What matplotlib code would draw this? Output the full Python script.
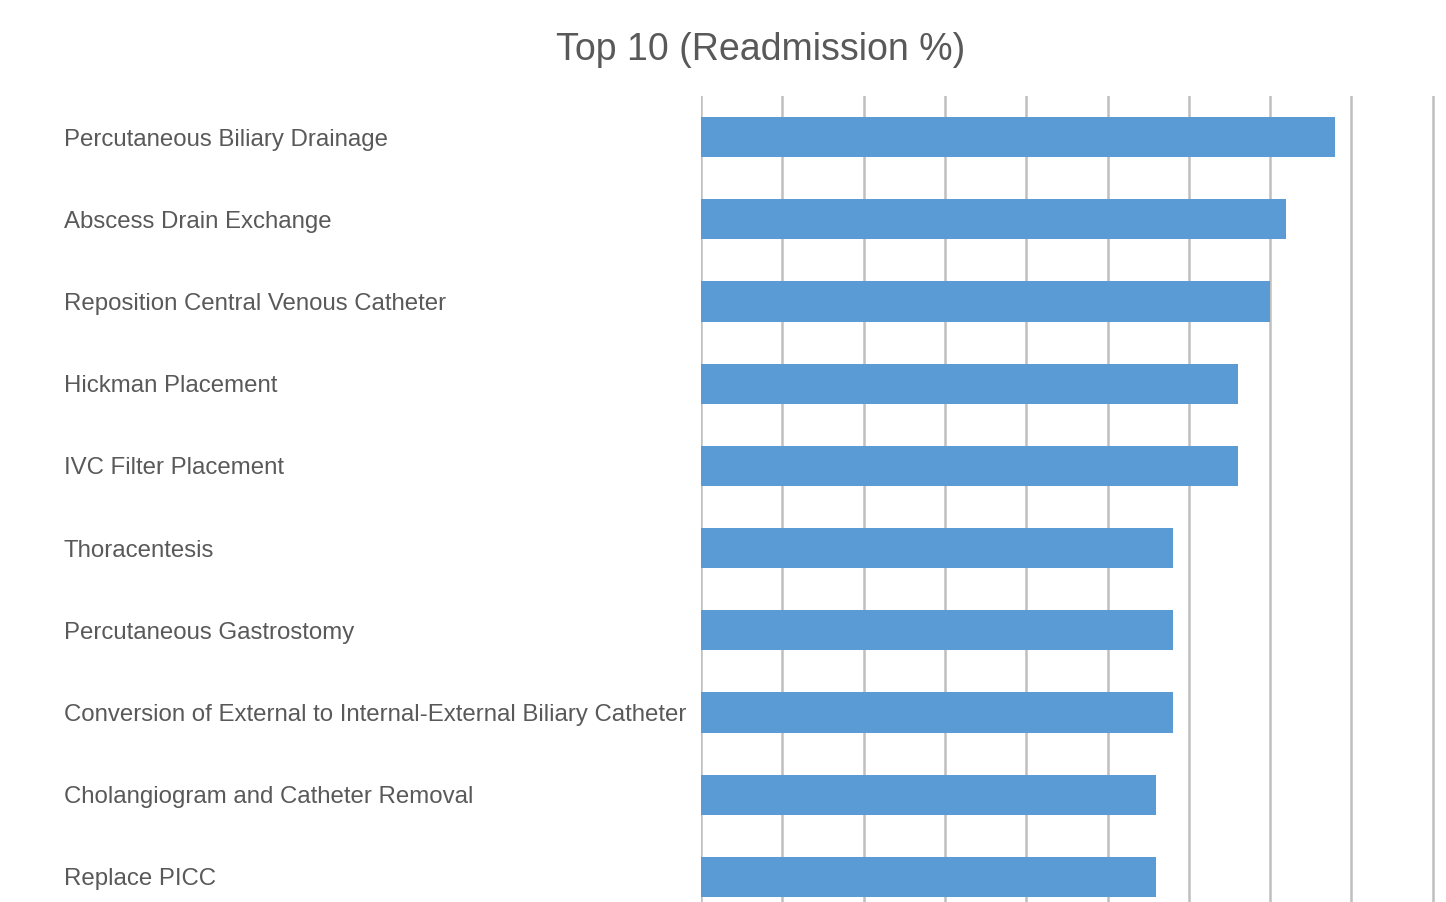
import matplotlib.pyplot as plt

procedures = [
    "Percutaneous Biliary Drainage",
    "Abscess Drain Exchange",
    "Reposition Central Venous Catheter",
    "Hickman Placement",
    "IVC Filter Placement",
    "Thoracentesis",
    "Percutaneous Gastrostomy",
    "Conversion of External to Internal-External Biliary Catheter",
    "Cholangiogram and Catheter Removal",
    "Replace PICC",
]
readmission = [7.8, 7.2, 7.0, 6.6, 6.6, 5.8, 5.8, 5.8, 5.6, 5.6]
x_ticks = list(range(0, 10))

plt.rcParams['font.family'] = ['Liberation Sans', 'DejaVu Sans']

fig = plt.figure(figsize=(14.46, 9.02), dpi=100)
# axes area in pixels: left 701, right ~1436, top 96, bottom 918 (cut off)
ax = fig.add_axes([701/1446, 1 - 918/902, (1436 - 701)/1446, (918 - 96)/902])

ypos = list(range(len(procedures)))
ax.barh(ypos, readmission, height=0.49, color="#5B9BD5", zorder=3)

ax.set_xlim(0, 9.04)
ax.set_ylim(len(procedures) - 0.5, -0.5)
ax.set_xticks(x_ticks)
ax.set_xticklabels([])
ax.tick_params(axis='x', length=0)
ax.grid(axis='x', color="#BFBFBF", linewidth=1.8, zorder=0)

ax.set_yticks(ypos)
ax.set_yticklabels(procedures, ha='left', color="#595959", fontsize=17.3)
ax.tick_params(axis='y', length=0, pad=(701 - 64) / 100 * 72)

for s in ax.spines.values():
    s.set_visible(False)

fig.text(761/1446, 1 - 50/902, "Top 10 (Readmission %)", ha='center', va='center',
         fontsize=27, color="#595959")

fig.savefig("out.png", dpi=100)
